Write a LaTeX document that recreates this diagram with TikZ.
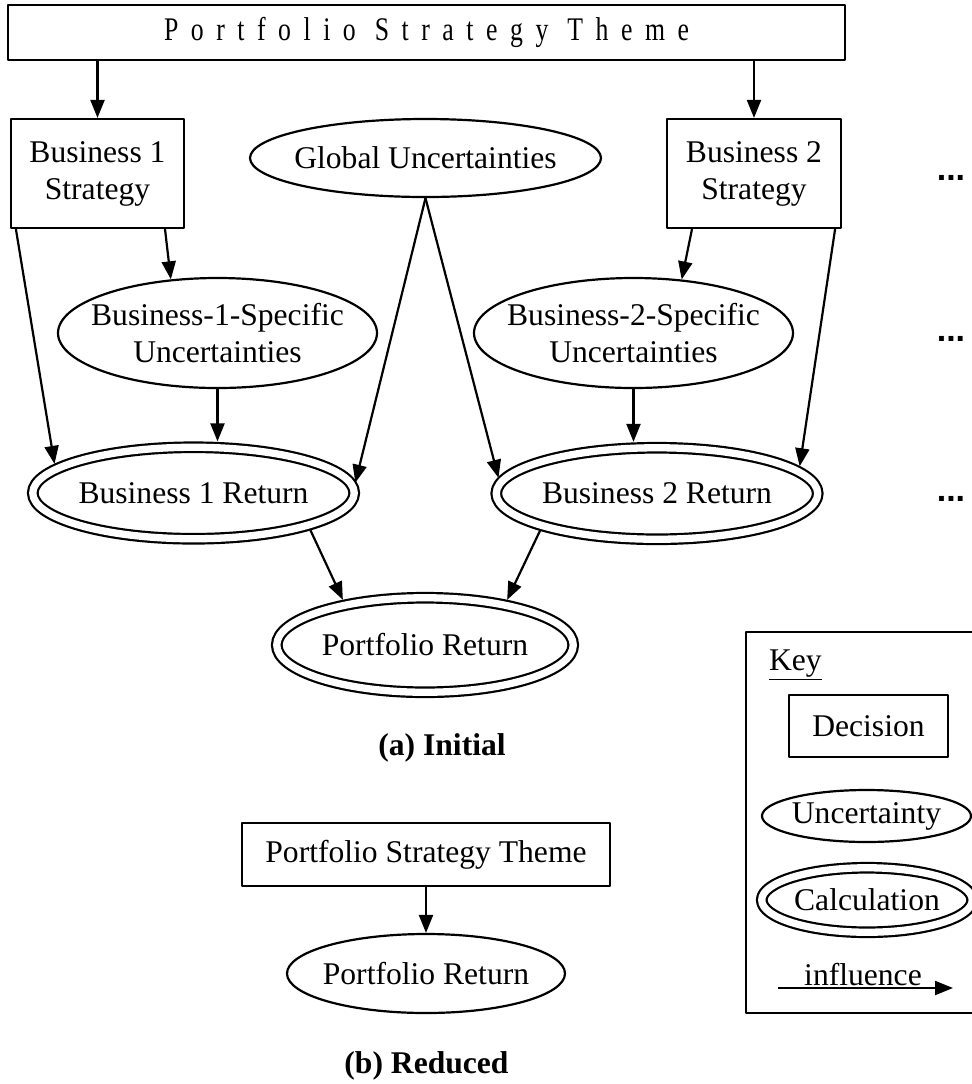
\documentclass[tikz,border=0pt]{standalone}
\usepackage{fontspec}
\setmainfont{Liberation Serif}
\newfontfamily\titlefont{Liberation Serif}[FakeStretch=0.78,LetterSpace=38]
\newfontfamily\dotsfont{Liberation Sans}
\usetikzlibrary{shapes.geometric,arrows.meta}
\begin{document}
\begin{tikzpicture}[x=0.5pt,y=-0.5pt,line join=round,line width=1.1pt,>={Triangle[length=9pt,width=7pt]}]
	\tikzset{every node/.style={font=\fontsize{15.8pt}{18.5pt}\selectfont,inner sep=0pt,align=center}}
	\tikzset{dec/.style={draw,rectangle},
		unc/.style={draw,ellipse,inner xsep=-30pt},
		calc/.style={draw,ellipse,inner xsep=-30pt,double,double distance=3.65pt},
		infl/.style={->},
		intocalc/.style={->,shorten >=2.4pt}}
	\useasboundingbox (0,0) rectangle (972,1084);
	\clip (0,0) rectangle (972,1084);
	%\draw[gray!30] (0,0) grid[step=50] (972,1084);
	\node[dec,minimum width=418.5pt,minimum height=27.5pt] (top) at (426.5,32.5) {\titlefont\fontsize{16.5pt}{18pt}\selectfont Portfolio Strategy Theme};
	\node[dec,minimum width=86.5pt,minimum height=54.5pt] (b1) at (97.5,173.5) {Business 1\\Strategy};
	\node[dec,minimum width=87pt,minimum height=54.5pt] (b2) at (754,173.5) {Business 2\\Strategy};
	\node[unc,minimum width=175.5pt,minimum height=39pt] (glob) at (425.5,158) {Global Uncertainties};
	\node[unc,minimum width=159.5pt,minimum height=55pt] (u1) at (217.5,333) {Business-1-Specific\\Uncertainties};
	\node[unc,minimum width=159.5pt,minimum height=55pt] (u2) at (633.5,333) {Business-2-Specific\\Uncertainties};
	\node[calc,minimum width=160.75pt,minimum height=45.75pt] (r1) at (193.5,493) {Business 1 Return};
	\node[calc,minimum width=160.75pt,minimum height=45.75pt] (r2) at (657,493.5) {Business 2 Return};
	\node[calc,minimum width=148.25pt,minimum height=47.25pt] (pr) at (425,645) {Portfolio Return};
	\node (capa) at (442,748) {\bfseries (a) Initial};
	\foreach \y [count=\i] in {178,339,499} \node (dots\i) at (951,\y) {\dotsfont\bfseries\fontsize{17pt}{17pt}\selectfont ...};
	\draw[infl] (top.south -| b1.north) -- (b1.north);
	\draw[infl] (top.south -| b2.north) -- (b2.north);
	\draw[infl] ([xshift=33.75pt]b1.south) -- (u1.131);
	\draw[intocalc] ([xshift=3pt]b1.south west) -- (r1.170);
	\draw[intocalc] (u1.south) -- (u1.south |- r1.north);
	\draw[intocalc] (glob.south) -- (r1.2);
	\draw[intocalc] (glob.south) -- (r2.176);
	\draw[infl] ([xshift=-31pt]b2.south) -- (u2.48);
	\draw[intocalc] ([xshift=-3.5pt]b2.south east) -- (r2.9);
	\draw[intocalc] (u2.south) -- (u2.south |- r2.north);
	\draw[intocalc,shorten <=2.4pt] (r1.-16) -- (pr.153);
	\draw[intocalc,shorten <=2.4pt] (r2.196) -- (pr.27);
	% reduced
	\node[dec,minimum width=184pt,minimum height=31.5pt] (rb) at (426,854.5) {Portfolio Strategy Theme};
	\node[unc,minimum width=139pt,minimum height=39.5pt] (rp) at (426,973.5) {Portfolio Return};
	\draw[infl] (rb) -- (rp);
	\node (capb) at (426.5,1066) {\bfseries (b) Reduced};
	% key
	\draw (746,632) rectangle (990,1013);
	\node[anchor=base west] (keyt) at (768,670) {\underline{Key}};
	\node[dec,minimum width=79.5pt,minimum height=31pt] (kd) at (868.5,726) {Decision};
	\node[unc,minimum width=104.5pt,minimum height=26pt] (ku) at (866.5,816) {Uncertainty};
	\node[calc,minimum width=105.25pt,minimum height=32.25pt] (kc) at (867,900) {Calculation};
	\coordinate (kl) at (778,988); \coordinate (kr) at (953,988);
	\draw[infl] (kl) -- (kr);
	\node[anchor=base] (kinf) at (863,985) {influence};
\end{tikzpicture}
\end{document}
